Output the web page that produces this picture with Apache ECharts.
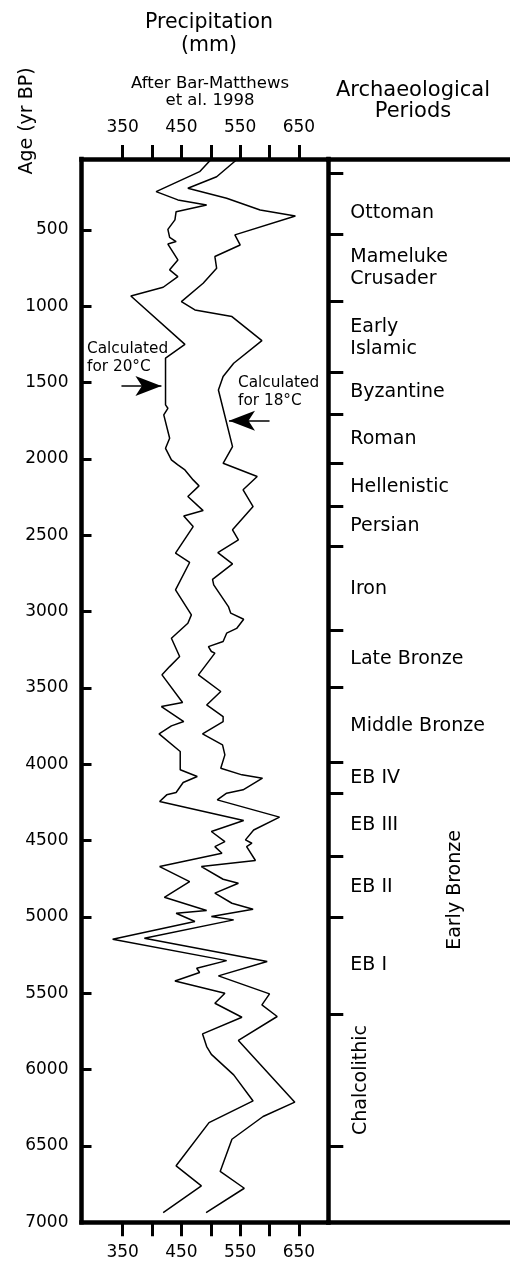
<!DOCTYPE html>
<html>
<head>
<meta charset="utf-8">
<script src="https://cdn.jsdelivr.net/npm/echarts@6/dist/echarts.min.js"></script>
<style>
html, body { margin: 0; padding: 0; background: #fff; }
#main { width: 510px; height: 1263px; }
</style>
</head>
<body>
<div id="main"></div>
<script type="text/javascript">
// precipitation (mm) against age (yr BP)
var age20 = [40, 118, 249, 303, 336, 380, 434, 496, 548, 576, 592, 696, 761, 805, 875, 932, 1249, 1340,
	1646, 1668, 1711, 1864, 1930, 2006, 2039, 2072, 2137, 2176, 2246, 2338, 2373, 2443, 2617, 2678, 2857,
	3021, 3076, 3174, 3294, 3360, 3414, 3595, 3622, 3720, 3748, 3801, 3916, 4036, 4080, 4119, 4185, 4200,
	4244, 4368, 4440, 4506, 4539, 4583, 4670, 4768, 4871, 4958, 4976, 5030, 5146, 5286, 5336, 5364, 5419,
	5500, 5565, 5657, 5766, 5849, 5900, 6034, 6205, 6347, 6630, 6761, 6936];
var precip20 = [500, 481, 407, 444, 493, 441, 439, 427, 430, 441, 427, 444, 430, 444, 419, 364, 456, 423,
	423, 427, 420, 430, 423, 433, 444, 456, 470, 480, 461, 487, 454, 470, 440, 464, 440,
	467, 461, 433, 447, 430, 417, 452, 416, 454, 433, 412, 448, 448, 477, 453, 441, 425,
	413, 556, 501, 524, 507, 519, 413, 464, 421, 493, 441, 473, 333, 527, 476, 481, 439,
	524, 507, 553, 486, 493, 501, 539, 572, 497, 441, 484, 419];

var age18 = [40, 151, 227, 292, 369, 408, 532, 598, 674, 751, 849, 969, 1024, 1067, 1225, 1373, 1460, 1548,
	1919, 2028, 2115, 2202, 2312, 2464, 2530, 2613, 2687, 2788, 2825, 2967, 3010, 3050, 3110, 3141, 3196,
	3229, 3261, 3272, 3414, 3523, 3611, 3687, 3720, 3801, 3873, 3938, 4026, 4069, 4091, 4167, 4189, 4233,
	4346, 4430, 4495, 4517, 4539, 4630, 4670, 4753, 4779, 4844, 4910, 4949, 4997, 5019, 5139, 5292, 5386,
	5504, 5576, 5652, 5809, 6213, 6307, 6456, 6667, 6777, 6936];
var precip18 = [544, 510, 461, 527, 584, 644, 541, 550, 507, 510, 487, 450, 473, 536, 587, 539, 521, 513,
	537, 521, 579, 555, 572, 537, 547, 512, 537, 503, 505, 530, 534, 556, 544, 527, 521,
	496, 501, 507, 479, 517, 493, 521, 521, 486, 520, 524, 517, 553, 588, 555, 527, 511,
	617, 573, 559, 570, 561, 576, 484, 521, 547, 507, 536, 572, 501, 539, 387, 596, 513,
	600, 587, 613, 547, 643, 589, 536, 516, 557, 492];

var ageTicks = [500, 1000, 1500, 2000, 2500, 3000, 3500, 4000, 4500, 5000, 5500, 6000, 6500];
var ageLabels = [500, 1000, 1500, 2000, 2500, 3000, 3500, 4000, 4500, 5000, 5500, 6000, 6500, 7000];
var precipTicks = [350, 400, 450, 500, 550, 600, 650];
var precipLabels = [350, 450, 550, 650];

// archaeological periods
var periodBounds = [130, 530, 965, 1435, 1710, 2025, 2310, 2570, 3120, 3495, 3985, 4190, 4600, 5000, 5635, 6500];
var periodNames = ['Ottoman', 'Mameluke\nCrusader', 'Early\nIslamic', 'Byzantine', 'Roman', 'Hellenistic',
	'Persian', 'Iron', 'Late Bronze', 'Middle Bronze', 'EB IV', 'EB III', 'EB II', 'EB I'];
var periodAges = [388, 749, 1207, 1561, 1869, 2183, 2437, 2851, 3310, 3747, 4089, 4397, 4801, 5314];
var spanNames = ['Early Bronze', 'Chalcolithic'];
var spanAges = [4823, 6068];

// arrows pointing at the two curves (tail, tip)
var arrow20 = [[348, 1522], [416, 1522]];
var arrow18 = [[600, 1749], [531, 1749]];

var FONT = 'DejaVu Sans';
var axisLine = { show: true, lineStyle: { color: '#000', width: 4.5, cap: 'square' } };
var AGE_MIN = 35, AGE_MAX = 7000;

var myChart = echarts.init(document.getElementById('main'));

function pairs(xs, ys) {
	return ys.map(function (y, i) { return [xs[i], y]; });
}

function arrowLine(a) {
	return {
		silent: true,
		symbol: ['none', 'arrow'],
		symbolSize: [15, 26],
		lineStyle: { color: '#000', width: 1.5, type: 'solid' },
		label: { show: false },
		data: [[{ coord: a[0] }, { coord: a[1] }]]
	};
}

function plain(v) { return String(v); }

var precipAxis = function (pos, margin) {
	return {
		gridIndex: 0, type: 'value', position: pos, min: 280, max: 700,
		axisLine: axisLine,
		axisTick: { show: true, inside: false, length: 14, customValues: precipTicks,
			lineStyle: { color: '#000', width: 3 } },
		axisLabel: { customValues: precipLabels, margin: margin, color: '#000', fontSize: 17,
			fontFamily: FONT, formatter: plain },
		splitLine: { show: false }
	};
};
var blankAxis = function (pos) {
	return {
		gridIndex: 1, type: 'value', position: pos, min: 0, max: 1,
		axisLine: axisLine, axisTick: { show: false }, axisLabel: { show: false }, splitLine: { show: false }
	};
};

var option = {
	animation: false,
	backgroundColor: '#fff',
	grid: [
		{ left: 81.5, top: 159, width: 246.8, height: 1063.3 },
		{ left: 328.3, top: 159, width: 181.7, height: 1063.3 }
	],
	xAxis: [precipAxis('top', 23), precipAxis('bottom', 22), blankAxis('top'), blankAxis('bottom')],
	yAxis: [
		{
			gridIndex: 0, type: 'value', inverse: true, position: 'left', min: AGE_MIN, max: AGE_MAX,
			axisLine: axisLine,
			axisTick: { show: true, inside: true, length: 10, customValues: ageTicks,
				lineStyle: { color: '#000', width: 3 } },
			axisLabel: { customValues: ageLabels, margin: 13, color: '#000', fontSize: 17,
				fontFamily: FONT, formatter: plain },
			splitLine: { show: false }
		},
		{
			gridIndex: 1, type: 'value', inverse: true, position: 'left', min: AGE_MIN, max: AGE_MAX,
			axisLine: axisLine,
			axisTick: { show: true, inside: true, length: 15, customValues: periodBounds,
				lineStyle: { color: '#000', width: 3 } },
			axisLabel: {
				inside: true, customValues: periodAges, margin: 22,
				color: '#000', fontSize: 19, lineHeight: 22, fontFamily: FONT,
				formatter: function (v) { return periodNames[periodAges.indexOf(v)]; }
			},
			splitLine: { show: false }
		}
	],
	graphic: [
		{ type: 'text', x: 209, y: 34, style: { text: 'Precipitation\n(mm)', font: '20.5px "DejaVu Sans"',
			lineHeight: 23, fill: '#000', align: 'center', verticalAlign: 'middle' } },
		{ type: 'text', x: 210, y: 92, style: { text: 'After Bar-Matthews\net al. 1998', font: '16.5px "DejaVu Sans"',
			lineHeight: 17, fill: '#000', align: 'center', verticalAlign: 'middle' } },
		{ type: 'text', x: 413, y: 101, style: { text: 'Archaeological\nPeriods', font: '21px "DejaVu Sans"',
			lineHeight: 21, fill: '#000', align: 'center', verticalAlign: 'middle' } },
		{ type: 'text', x: 27, y: 121, rotation: Math.PI / 2, style: { text: 'Age (yr BP)', font: '19px "DejaVu Sans"',
			fill: '#000', align: 'center', verticalAlign: 'middle' } },
		{ type: 'text', x: 87, y: 358, style: { text: 'Calculated\nfor 20°C', font: '15.3px "DejaVu Sans"',
			lineHeight: 17.5, fill: '#000', align: 'left', verticalAlign: 'middle' } },
		{ type: 'text', x: 238, y: 392, style: { text: 'Calculated\nfor 18°C', font: '15.3px "DejaVu Sans"',
			lineHeight: 17.5, fill: '#000', align: 'left', verticalAlign: 'middle' } }
	],
	series: [
		{
			name: 'Calculated for 20°C', type: 'line', xAxisIndex: 0, yAxisIndex: 0,
			data: pairs(precip20, age20), showSymbol: false, symbol: 'none',
			lineStyle: { color: '#000', width: 1.5 },
			markLine: arrowLine(arrow20)
		},
		{
			name: 'Calculated for 18°C', type: 'line', xAxisIndex: 0, yAxisIndex: 0,
			data: pairs(precip18, age18), showSymbol: false, symbol: 'none',
			lineStyle: { color: '#000', width: 1.5 },
			markLine: arrowLine(arrow18)
		},
		{
			name: 'spans', type: 'scatter', xAxisIndex: 2, yAxisIndex: 1, silent: true,
			symbolSize: 1, itemStyle: { color: 'rgba(255,255,255,0)' },
			data: spanNames.map(function (n, i) {
				return { name: n, value: [n === 'Chalcolithic' ? 0.18 : 0.7, spanAges[i]] };
			}),
			label: {
				show: true, position: 'inside', rotate: 90, formatter: '{b}',
				color: '#000', textBorderWidth: 0, opacity: 1, fontSize: 19, fontFamily: FONT
			}
		}
	]
};

myChart.setOption(option);
</script>
</body>
</html>
